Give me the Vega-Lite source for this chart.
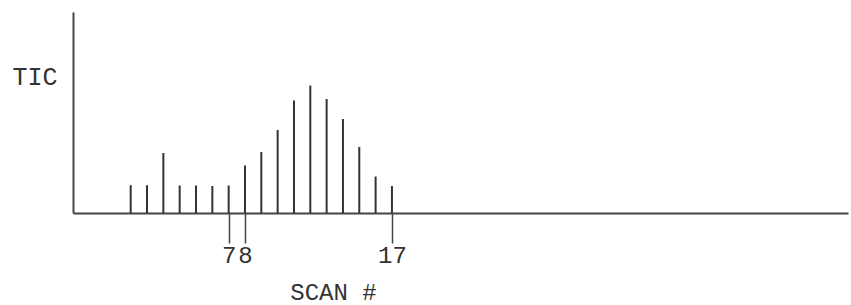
{
  "$schema": "https://vega.github.io/schema/vega-lite/v6.json",
  "width": 775,
  "height": 201,
  "autosize": "none",
  "padding": {"left": 73, "top": 12, "right": 3, "bottom": 92},
  "background": "white",
  "config": {"view": {"stroke": null}},
  "data": {
    "values": [
      {"scan": 1, "tic": 27.8},
      {"scan": 2, "tic": 27.8},
      {"scan": 3, "tic": 60},
      {"scan": 4, "tic": 27.5},
      {"scan": 5, "tic": 27.5},
      {"scan": 6, "tic": 27},
      {"scan": 7, "tic": 27.5},
      {"scan": 8, "tic": 47.5},
      {"scan": 9, "tic": 61},
      {"scan": 10, "tic": 83},
      {"scan": 11, "tic": 112.5},
      {"scan": 12, "tic": 127.5},
      {"scan": 13, "tic": 114},
      {"scan": 14, "tic": 94},
      {"scan": 15, "tic": 66},
      {"scan": 16, "tic": 36.5},
      {"scan": 17, "tic": 27}
    ]
  },
  "mark": {"type": "rule", "color": "#333333", "strokeWidth": 2},
  "encoding": {
    "x": {
      "field": "scan",
      "type": "quantitative",
      "scale": {"domain": [-2.533, 44.93], "nice": false, "zero": false},
      "axis": {
        "values": [7, 8, 17],
        "grid": false,
        "domainColor": "#444444",
        "domainWidth": 2,
        "tickColor": "#444444",
        "tickWidth": 1.5,
        "tickSize": 30,
        "labelPadding": 0,
        "labelFont": "Liberation Mono",
        "labelFontSize": 24,
        "labelColor": "#333333",
        "labelOverlap": false,
        "labelFlush": false,
        "title": "SCAN #",
        "titleFont": "Liberation Mono",
        "titleFontSize": 24,
        "titleFontWeight": "normal",
        "titleColor": "#333333",
        "titleAnchor": null,
        "titleAlign": "center",
        "titleBaseline": "alphabetic",
        "titleX": 260,
        "titleY": 86
      }
    },
    "y": {
      "field": "tic",
      "type": "quantitative",
      "scale": {"domain": [0, 201], "nice": false},
      "axis": {
        "grid": false,
        "ticks": false,
        "labels": false,
        "domainColor": "#444444",
        "domainWidth": 2,
        "title": "TIC",
        "titleAngle": 0,
        "titleFont": "Liberation Mono",
        "titleFontSize": 25,
        "titleFontWeight": "normal",
        "titleColor": "#333333",
        "titleAnchor": null,
        "titleAlign": "left",
        "titleBaseline": "alphabetic",
        "titleX": -61,
        "titleY": 72
      }
    },
    "y2": {"datum": 0}
  }
}
